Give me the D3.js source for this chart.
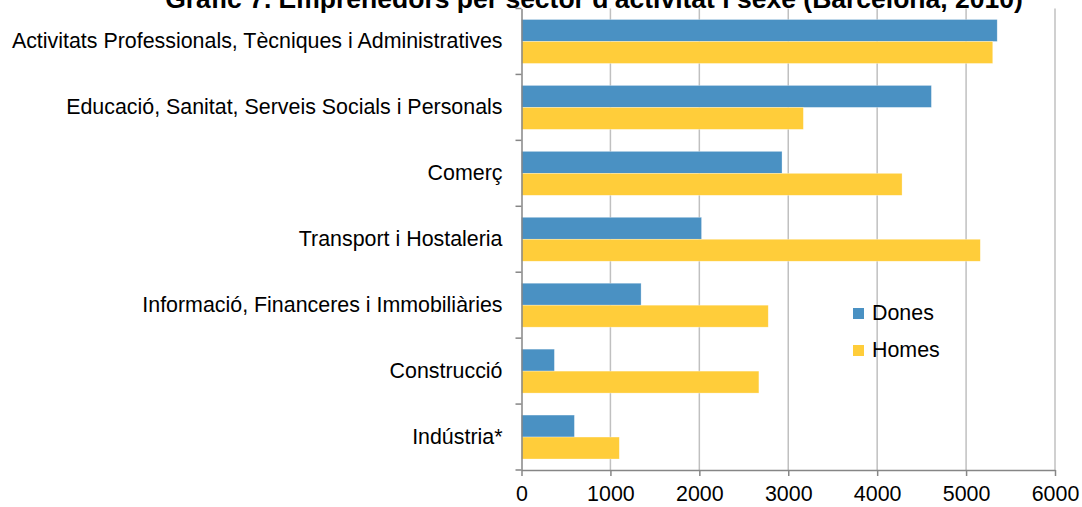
<!DOCTYPE html>
<html>
<head>
<meta charset="utf-8">
<script src="https://cdn.jsdelivr.net/npm/d3@7"></script>
<style>
    body { margin: 0; background: #fff; }
    svg { display: block; font-family: "Liberation Sans", Arial, sans-serif; }
</style>
</head>
<body>
<div id="chart"></div>
<script>
    // data
    const categories = [
        "Activitats Professionals, Tècniques i Administratives",
        "Educació, Sanitat, Serveis Socials i Personals",
        "Comerç",
        "Transport i Hostaleria",
        "Informació, Financeres i Immobiliàries",
        "Construcció",
        "Indústria*"
    ];
    const series = ["Dones", "Homes"];
    const dones = [5350, 4610, 2930, 2025, 1345, 370, 595];
    const homes = [5300, 3170, 4280, 5160, 2775, 2670, 1100];
    const xTicks = [0, 1000, 2000, 3000, 4000, 5000, 6000];
    const title = "Gràfic 7. Emprenedors per sector d'activitat i sexe (Barcelona, 2010)";

    const colors = { Dones: "#4a91c3", Homes: "#ffcd3a" };

    const svgWidth = 1082, svgHeight = 507;
    const margin = { top: 8.5, right: 27, bottom: 37, left: 521.5 };
    const width = svgWidth - margin.left - margin.right;
    const height = svgHeight - margin.top - margin.bottom;
    const fontSize = 21.4;

    const rows = categories.map(function(c, i) {
        return { cat: c, Dones: dones[i], Homes: homes[i] };
    });

    const svg = d3.select("#chart").append("svg")
        .attr("width", svgWidth)
        .attr("height", svgHeight);

    const g = svg.append("g")
        .attr("transform", `translate(${margin.left},${margin.top})`);

    const x = d3.scaleLinear().domain([0, 6000]).range([0, width]);
    const y = d3.scaleBand().domain(categories).range([0, height])
        .paddingInner(1 / 3).paddingOuter(1 / 6);
    const ySub = d3.scaleBand().domain(series).range([0, y.bandwidth()]);

    // vertical gridlines
    g.append("g").selectAll("line")
        .data(xTicks.slice(1))
        .join("line")
        .attr("x1", d => x(d)).attr("x2", d => x(d))
        .attr("y1", 0).attr("y2", height)
        .attr("stroke", "#c0c0c0")
        .attr("stroke-width", 1.5);

    // bars
    const groups = g.append("g").selectAll("g")
        .data(rows)
        .join("g")
        .attr("transform", d => `translate(0,${y(d.cat)})`);

    groups.selectAll("rect")
        .data(d => series.map(s => ({ key: s, value: d[s] })))
        .join("rect")
        .attr("x", x(0))
        .attr("y", d => ySub(d.key))
        .attr("width", d => x(d.value) - x(0))
        .attr("height", ySub.bandwidth())
        .attr("fill", d => colors[d.key])
        .attr("stroke", "#fff")
        .attr("stroke-opacity", 0.5)
        .attr("stroke-width", 0.6);

    // x axis
    const xAxis = d3.axisBottom(x).tickValues(xTicks).tickFormat(d3.format("d"))
        .tickSize(6).tickPadding(10).tickSizeOuter(0);
    const gx = g.append("g")
        .attr("transform", `translate(0,${height})`)
        .call(xAxis);
    gx.select(".domain").attr("stroke", "#868686").attr("stroke-width", 1.5);
    gx.selectAll(".tick line").attr("stroke", "#868686").attr("stroke-width", 1.5);
    gx.selectAll("text")
        .attr("font-size", fontSize)
        .attr("fill", "#000")
        .attr("font-family", "Liberation Sans, Arial, sans-serif");

    // y axis (labels at band centres, ticks at band boundaries)
    const yAxis = d3.axisLeft(y).tickSize(0).tickPadding(19);
    const gy = g.append("g").call(yAxis);
    gy.select(".domain").attr("stroke", "#868686").attr("stroke-width", 1.5);
    gy.selectAll("text")
        .attr("font-size", fontSize)
        .attr("fill", "#000")
        .attr("font-family", "Liberation Sans, Arial, sans-serif");

    const step = y.step();
    const boundaries = d3.range(categories.length + 1).map(i => i * step);
    g.append("g").selectAll("line")
        .data(boundaries)
        .join("line")
        .attr("x1", -6).attr("x2", 0)
        .attr("y1", d => d).attr("y2", d => d)
        .attr("stroke", "#868686")
        .attr("stroke-width", 1.5);

    // legend
    const legend = svg.append("g").attr("transform", "translate(853,308)");
    const items = legend.selectAll("g")
        .data(series)
        .join("g")
        .attr("transform", (d, i) => `translate(0,${i * 37})`);
    items.append("rect")
        .attr("width", 11).attr("height", 11)
        .attr("fill", d => colors[d]);
    items.append("text")
        .attr("x", 19).attr("y", 12)
        .attr("font-size", fontSize)
        .attr("fill", "#000")
        .text(d => d);

    // title (top is clipped in the original)
    svg.append("text")
        .attr("x", 594).attr("y", 8)
        .attr("text-anchor", "middle")
        .attr("font-size", 26.5)
        .attr("font-weight", "bold")
        .attr("fill", "#000")
        .text(title);
</script>
</body>
</html>
